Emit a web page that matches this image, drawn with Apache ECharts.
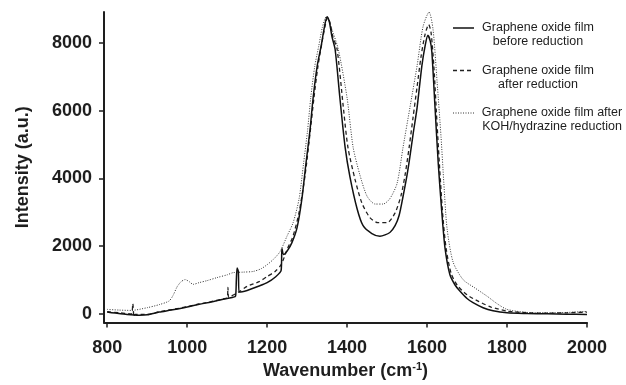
<!DOCTYPE html>
<html>
<head>
<meta charset="utf-8">
<script src="https://cdn.jsdelivr.net/npm/echarts@6/dist/echarts.min.js"></script>
<style>
  html, body { margin: 0; padding: 0; background: #fff; }
</style>
</head>
<body>
<div id="chart" style="width: 626px; height: 385px;"></div>
<script>
// Raman spectra, [wavenumber, intensity]
const beforeReduction = [
  [800, 50], [820, 20], [850, -20], [880, -40], [900, -30], [930, 50], [960, 110],
  [1000, 200], [1030, 280], [1060, 350], [1090, 430], [1115, 490], [1121, 520],
  [1123, 1000], [1125, 1350], [1128, 1250], [1130, 640], [1150, 690], [1180, 820],
  [1200, 920], [1220, 1080], [1235, 1280], [1237, 1930], [1241, 1750], [1250, 1850],
  [1262, 2100], [1275, 2550], [1287, 3400], [1297, 4430], [1307, 5400], [1315, 6370],
  [1325, 7300], [1335, 7900], [1343, 8450], [1350, 8770], [1356, 8600], [1362, 8190],
  [1370, 7810], [1382, 6370], [1395, 4920], [1407, 4050], [1425, 3100], [1440, 2600],
  [1462, 2370], [1482, 2290], [1507, 2400], [1520, 2600], [1530, 2900], [1540, 3470],
  [1550, 4100], [1557, 4630], [1565, 5300], [1575, 6080], [1587, 7320], [1595, 7900],
  [1602, 8220], [1608, 8050], [1612, 7730], [1620, 6080], [1628, 4430], [1637, 2980],
  [1645, 1930], [1657, 1160], [1670, 850], [1682, 670], [1700, 450], [1715, 330],
  [1740, 180], [1765, 90], [1800, 30], [1850, 10], [1900, 0], [1950, -10], [2000, -20]
]
const afterReduction = [
  [800, 60], [830, 30], [860, 0], [864, 300], [867, -90], [870, -20], [900, -20],
  [930, 60], [960, 120], [1000, 210], [1030, 290], [1060, 360], [1090, 440], [1100, 470],
  [1102, 780], [1104, 490], [1130, 650], [1150, 810], [1180, 950], [1200, 1100],
  [1220, 1250], [1235, 1450], [1250, 1900], [1265, 2300], [1280, 3000], [1295, 4100],
  [1307, 5300], [1317, 6370], [1327, 7300], [1337, 8000], [1345, 8500], [1351, 8750],
  [1357, 8600], [1364, 8200], [1375, 7810], [1390, 6160], [1402, 4920], [1420, 3960],
  [1437, 3270], [1457, 2840], [1477, 2690], [1500, 2690], [1520, 2980], [1535, 3500],
  [1545, 4100], [1555, 4900], [1565, 5800], [1575, 6700], [1585, 7600], [1595, 8250],
  [1604, 8540], [1610, 8300], [1617, 7300], [1625, 5600], [1633, 4000], [1640, 2800],
  [1648, 1900], [1660, 1200], [1675, 850], [1700, 560], [1730, 360], [1760, 200],
  [1800, 80], [1850, 30], [1900, 20], [1950, 30], [2000, 50]
]
const kohHydrazine = [
  [800, 130], [830, 110], [860, 100], [900, 180], [930, 270], [955, 380], [965, 550],
  [975, 800], [985, 950], [995, 1010], [1005, 950], [1015, 870], [1030, 920], [1050, 980],
  [1075, 1070], [1100, 1150], [1115, 1215], [1140, 1230], [1165, 1250], [1185, 1330],
  [1200, 1450], [1215, 1600], [1232, 1830], [1250, 2300], [1265, 2690], [1280, 3400],
  [1291, 4430], [1301, 5400], [1309, 6370], [1319, 7300], [1329, 7900], [1338, 8450],
  [1348, 8770], [1355, 8650], [1362, 8400], [1378, 7810], [1400, 6370], [1415, 4920],
  [1432, 4100], [1450, 3470], [1470, 3240], [1490, 3240], [1507, 3400], [1525, 3850],
  [1540, 4920], [1557, 6080], [1575, 7320], [1590, 8480], [1605, 8910], [1615, 8390],
  [1625, 6860], [1635, 5210], [1642, 3850], [1650, 2520], [1665, 1530], [1690, 1010],
  [1720, 760], [1750, 520], [1775, 300], [1800, 130], [1850, 40], [1900, 30],
  [1950, 40], [2000, 70]
]

const seriesNames = [
  'Graphene oxide film\nbefore reduction',
  'Graphene oxide film\nafter reduction',
  'Graphene oxide film after\nKOH/hydrazine reduction'
]
const xTicks = [800, 1000, 1200, 1400, 1600, 1800, 2000]
const yTicks = [0, 2000, 4000, 6000, 8000]

const font = 'Liberation Sans, Arial, Helvetica, sans-serif'
const ink = '#1e1e1e'

// line style per series, shared by the plot and the key
const styles = [
  { color: '#111', width: 1.5, type: 'solid' },
  { color: '#222', width: 1.3, type: [4, 3] },
  { color: '#333', width: 1, type: [1, 1.5] }
]

const chart = echarts.init(document.getElementById('chart'))

const axisCommon = {
  axisLine: { show: true, onZero: false, lineStyle: { color: ink, width: 2 } },
  axisTick: { show: true, length: 5, lineStyle: { color: ink, width: 1.5 } },
  splitLine: { show: false },
  nameLocation: 'middle',
  nameTextStyle: { fontFamily: font, fontSize: 18, fontWeight: 'bold', color: ink }
}

// key drawn by hand: the sample line sits beside the first text line
const keyTop = 28, keyStep = 42.5
const keyCenters = [538, 538, 552]
const keyGraphics = []
seriesNames.forEach((name, i) => {
  const y = keyTop + keyStep * i
  keyGraphics.push({
    type: 'line',
    shape: { x1: 453, y1: y, x2: 474, y2: y },
    style: { stroke: styles[i].color, lineWidth: styles[i].width, lineDash: styles[i].type === 'solid' ? null : styles[i].type }
  })
  keyGraphics.push({
    type: 'text',
    x: keyCenters[i],
    y: y - 7,
    style: {
      text: name,
      font: '12.5px ' + font,
      fill: ink,
      align: 'center',
      verticalAlign: 'top',
      lineHeight: 14
    }
  })
})

const option = {
  animation: false,
  backgroundColor: '#fff',
  grid: { left: 104, right: 39, top: 12, bottom: 56 },
  graphic: keyGraphics,
  xAxis: {
    ...axisCommon,
    type: 'value',
    min: 792,
    max: 2000,
    name: 'Wavenumber (cm{sup|-1})',
    nameGap: 20,
    nameTextStyle: {
      ...axisCommon.nameTextStyle,
      rich: {
        sup: { fontFamily: font, fontSize: 11, fontWeight: 'bold', color: ink, verticalAlign: 'top', padding: [0, 0, 8, 0] }
      }
    },
    axisTick: { ...axisCommon.axisTick, customValues: xTicks },
    axisLabel: {
      customValues: xTicks,
      margin: 16,
      formatter: v => String(v),
      fontFamily: font, fontSize: 18, fontWeight: 'bold', color: ink
    }
  },
  yAxis: {
    ...axisCommon,
    type: 'value',
    min: -260,
    max: 8910,
    name: 'Intensity (a.u.)',
    nameGap: 72,
    axisTick: { ...axisCommon.axisTick, customValues: yTicks },
    axisLabel: {
      customValues: yTicks,
      margin: 12,
      formatter: v => String(v),
      fontFamily: font, fontSize: 18, fontWeight: 'bold', color: ink
    }
  },
  series: [beforeReduction, afterReduction, kohHydrazine].map((data, i) => ({
    name: seriesNames[i],
    type: 'line',
    data: data,
    symbol: 'none',
    smooth: 0.25,
    z: 3 - i,
    itemStyle: { color: styles[i].color },
    lineStyle: styles[i]
  }))
}

chart.setOption(option)
</script>
</body>
</html>
